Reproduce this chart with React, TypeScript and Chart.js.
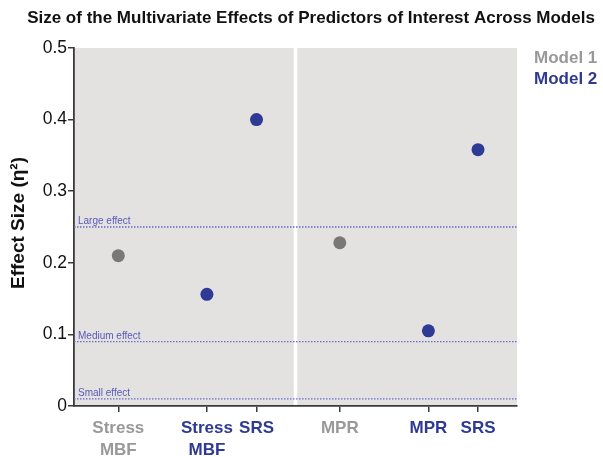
import React, { useEffect, useRef } from "react";
import { Chart, registerables } from "chart.js";

Chart.register(...registerables);

const chartTitle = "Size of the Multivariate Effects of Predictors of Interest Across Models";
const yAxisTitle = "Effect Size (η²)";
const modelNames = ["Model 1", "Model 2"];
const modelColors = ["#999999", "#2e3a94"];
const pointColors = ["#787878", "#2e3a94"];

const categories: (string | string[])[] = [["Stress", "MBF"], ["Stress", "MBF"], "SRS", "MPR", "MPR", "SRS"];
const categoryModel = [0, 1, 1, 0, 1, 1];
const categoryPositions = [1, 3, 4.12, 6, 8, 9.12];
const effectSizes = [0.21, 0.156, 0.4, 0.228, 0.105, 0.358];
const panelDivider = 5;

const thresholdValues = [0.25, 0.09, 0.01];
const thresholdLabels = ["Large effect", "Medium effect", "Small effect"];

const yTicks = [0, 0.1, 0.2, 0.3, 0.4, 0.5];

const FONT = '"Liberation Sans", Arial, Helvetica, sans-serif';

const decorPlugin = {
  id: "decor",
  beforeDraw(chart: any) {
    const { ctx, chartArea: a, scales } = chart;
    ctx.save();
    ctx.fillStyle = "#e3e2e1";
    ctx.fillRect(a.left, a.top, a.right - a.left, a.bottom - a.top);
    const sx = scales.x.getPixelForValue(panelDivider);
    ctx.fillStyle = "#ffffff";
    ctx.fillRect(sx - 1.75, a.top, 3.5, a.bottom - a.top);
    ctx.restore();
  },
  afterDatasetsDraw(chart: any) {
    const { ctx, chartArea: a, scales } = chart;
    ctx.save();
    ctx.font = `10px ${FONT}`;
    ctx.fillStyle = "#5a5ab8";
    ctx.textAlign = "left";
    ctx.textBaseline = "alphabetic";
    thresholdValues.forEach((v, i) => {
      const y = scales.y.getPixelForValue(v);
      ctx.fillText(thresholdLabels[i], a.left + 4, y - 3);
    });
    ctx.restore();
  },
  afterDraw(chart: any) {
    const { ctx, chartArea: a } = chart;
    ctx.save();
    // title
    ctx.font = `bold 17px ${FONT}`;
    ctx.fillStyle = "#111111";
    ctx.textAlign = "center";
    ctx.textBaseline = "middle";
    ctx.fillText(chartTitle, 311, 18);
    // y title
    ctx.save();
    ctx.translate(19, 223);
    ctx.rotate(-Math.PI / 2);
    ctx.font = `bold 19px ${FONT}`;
    ctx.fillStyle = "#111111";
    ctx.fillText(yAxisTitle, 0, 0);
    ctx.restore();
    // legend
    ctx.font = `bold 17px ${FONT}`;
    ctx.textAlign = "left";
    modelNames.forEach((n, i) => {
      ctx.fillStyle = modelColors[i];
      ctx.fillText(n, a.right + 17, 58 + i * 21);
    });
    ctx.restore();
  },
};

export default function App() {
  const ref = useRef<HTMLCanvasElement | null>(null);
  useEffect(() => {
    document.body.style.margin = "0";
    const canvas = ref.current;
    if (!canvas) return;

    const datasets: any[] = modelNames.map((name, m) => ({
      type: "scatter",
      label: name,
      data: categoryPositions
        .map((x, i) => ({ x, y: effectSizes[i], m: categoryModel[i] }))
        .filter((p) => p.m === m)
        .map((p) => ({ x: p.x, y: p.y })),
      backgroundColor: pointColors[m],
      borderWidth: 0,
      pointRadius: 6.5,
      pointHoverRadius: 6.5,
      order: 0,
    }));

    thresholdValues.forEach((v, i) => {
      datasets.push({
        type: "line",
        label: thresholdLabels[i],
        data: [
          { x: 0, y: v },
          { x: 10, y: v },
        ],
        borderColor: "#6a6acc",
        borderWidth: 1.3,
        borderDash: [1.5, 1.5],
        pointRadius: 0,
        fill: false,
        order: 5,
      });
    });

    const chart = new Chart(canvas, {
      type: "scatter",
      data: { datasets },
      plugins: [decorPlugin],
      options: {
        animation: false,
        responsive: false,
        devicePixelRatio: 1,
        layout: { padding: { top: 48, right: 86, left: 0, bottom: 0 } },
        plugins: {
          legend: { display: false },
          title: { display: false },
          tooltip: { enabled: false },
        },
        scales: {
          x: {
            type: "linear",
            min: 0,
            max: 10,
            afterFit(scale: any) {
              scale.height = 51;
            },
            afterBuildTicks(scale: any) {
              scale.ticks = categoryPositions.map((v) => ({ value: v }));
            },
            grid: {
              drawOnChartArea: false,
              drawTicks: true,
              tickLength: 6,
              color: "#3a3a3a",
              lineWidth: 1.5,
            },
            border: { display: true, color: "#3a3a3a", width: 1.8 },
            ticks: {
              autoSkip: false,
              maxRotation: 0,
              padding: 6,
              font: { family: FONT, size: 17, weight: "bold", lineHeight: 1.25 },
              color: (ctx: any) => modelColors[categoryModel[ctx.index] ?? 0],
              callback: (_v: any, i: number) => categories[i],
            },
          },
          y: {
            type: "linear",
            min: 0,
            max: 0.5,
            afterFit(scale: any) {
              scale.width = 74;
            },
            afterBuildTicks(scale: any) {
              scale.ticks = yTicks.map((v) => ({ value: v }));
            },
            grid: {
              drawOnChartArea: false,
              drawTicks: true,
              tickLength: 6,
              color: "#3a3a3a",
              lineWidth: 1.5,
            },
            border: { display: true, color: "#3a3a3a", width: 1.8 },
            ticks: {
              padding: 1,
              font: { family: FONT, size: 17.5 },
              color: "#111111",
              callback: (v: any) => (v === 0 ? "0" : Number(v).toFixed(1)),
            },
          },
        },
      } as any,
    });
    return () => chart.destroy();
  }, []);

  return (
    <div style={{ width: 603, height: 457 }}>
      <canvas ref={ref} width={603} height={457} style={{ display: "block" }} />
    </div>
  );
}
